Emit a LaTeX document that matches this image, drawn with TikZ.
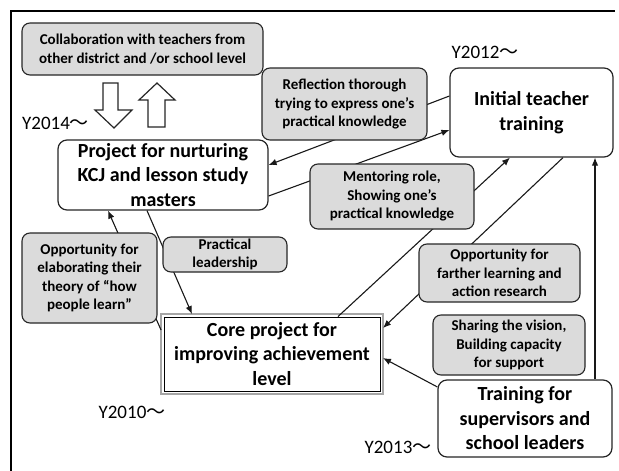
\documentclass[tikz,border=0pt]{standalone}
\usepackage{fontspec}
\setmainfont{Carlito}
\newfontfamily\cjk{Noto Sans CJK JP}
\usetikzlibrary{arrows.meta}
\newcommand{\wave}{{\cjk 〜}}
\begin{document}
\begin{tikzpicture}[x=1pt,y=-1pt,
  mainbox/.style={draw=black!85, line width=1.2pt, rounded corners=9pt, fill=white,
    inner sep=0pt, align=center, font=\fontsize{20}{24.5}\selectfont\bfseries},
  labelbox/.style={draw=black!85, line width=1.1pt, rounded corners=8pt, fill=gray!28,
    inner sep=0pt, align=center, font=\fontsize{15}{18.5}\selectfont\bfseries},
  link/.style={draw=black!90, line width=1.1pt},
  arr/.style={link, -{Latex[length=8pt,width=6.5pt]}},
  hollow/.style={draw=black!85, line width=1.2pt, fill=white, line join=miter},
  year/.style={inner sep=0pt, font=\fontsize{19}{22}\selectfont}
]
\useasboundingbox (0,0) rectangle (619,471);
% frame
\draw[line width=1.5pt] (11,471) -- (11,11) -- (615,11);

% main boxes
\node[mainbox, minimum width=210pt, minimum height=70pt] (proj) at (163,175)
  {Project for nurturing\\KCJ and lesson study\\masters};
\node[mainbox, minimum width=163pt, minimum height=89pt] (init) at (531.5,112.5)
  {Initial teacher\\training};
\node[draw=black, line width=0.9pt, fill=white, inner sep=0pt, align=center,
  font=\fontsize{20}{24.5}\selectfont\bfseries,
  minimum width=216pt, minimum height=74pt] (core) at (272,354)
  {Core project for\\improving achievement\\level};
\node[mainbox, minimum width=174pt, minimum height=77pt] (train) at (525,418.5)
  {Training for\\supervisors and\\school leaders};
\draw[gray!70, line width=1.6pt] ([shift={(-2.5pt,2.5pt)}]core.north west)
  rectangle ([shift={(2.5pt,-2.5pt)}]core.south east);

% connectors
\draw[arr] ([yshift=16.5pt]init.west) -- ([yshift=10pt]proj.east);
\draw[arr] ([yshift=-21pt]proj.east) -- ([yshift=-17.5pt]init.west);
\draw[arr] ([xshift=66pt]core.north) -- ([xshift=-21.5pt]init.south);
\draw[arr] ([xshift=31.5pt]init.south) -- ([xshift=2.5pt,yshift=26pt]core.east);
\draw[arr] ([xshift=70pt]train.north) -- ([xshift=63.5pt]init.south);
\draw[arr] ([yshift=31.5pt]train.west) -- ([xshift=2.5pt,yshift=-4pt]core.east);
\draw[arr] ([xshift=-16pt]proj.south) -- ([xshift=-80pt,yshift=2.5pt]core.north);
\draw[arr] ([xshift=-2.5pt,yshift=24pt]core.west) -- ([xshift=-55pt]proj.south);

% labels on the connectors
\node[labelbox, minimum width=241pt, minimum height=52pt] (collab) at (142.5,49)
  {Collaboration with teachers from\\other district and /or school level};
\node[labelbox, minimum width=165pt, minimum height=72pt] (refl) at (344.5,104)
  {Reflection thorough\\trying to express one’s\\practical knowledge};
\node[labelbox, minimum width=164pt, minimum height=65pt] (ment) at (392,196.5)
  {Mentoring role,\\Showing one’s\\practical knowledge};
\node[labelbox, minimum width=124pt, minimum height=35pt] (prac) at (225,254.5)
  {Practical\\leadership};
\node[labelbox, minimum width=135pt, minimum height=90pt] (elab) at (89.5,278)
  {Opportunity for\\elaborating their\\theory of “how\\people learn”};
\node[labelbox, minimum width=161pt, minimum height=58pt] (farth) at (499.5,273)
  {Opportunity for\\farther learning and\\action research};
\node[labelbox, minimum width=152pt, minimum height=60pt] (share) at (509,345)
  {Sharing the vision,\\Building capacity\\for support};

% exchange arrows below the collaboration box
\draw[hollow] (103,83) -- (118,83) -- (118,110) -- (132,110) -- (114,128)
  -- (95,110) -- (103,110) -- cycle;
\draw[hollow] (148,127) -- (165,127) -- (165,100) -- (175,100) -- (157,83)
  -- (139,100) -- (148,100) -- cycle;

% start years
\node[year, anchor=west] (y14) at (22,123) {Y2014\wave};
\node[year] (y12) at (485,52) {Y2012\wave};
\node[year] (y10) at (132,412) {Y2010\wave};
\node[year] (y13) at (398,447) {Y2013\wave};
\end{tikzpicture}
\end{document}
